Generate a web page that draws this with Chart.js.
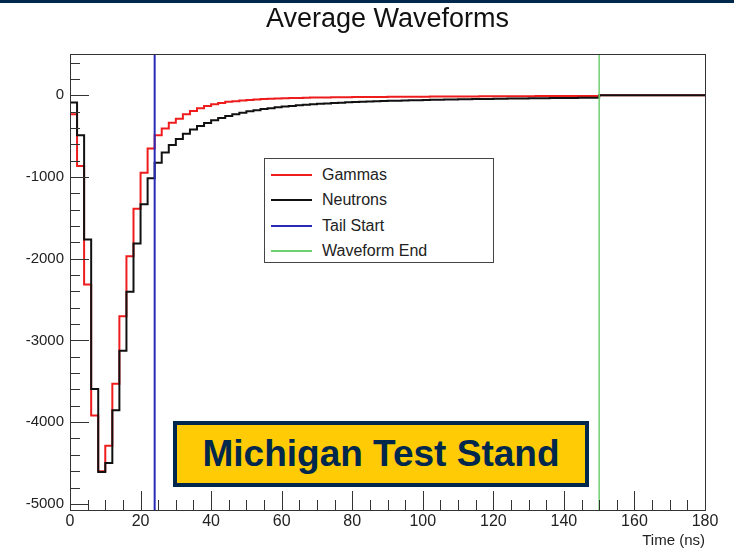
<!DOCTYPE html>
<html>
<head>
<meta charset="utf-8">
<title>Average Waveforms</title>
<script src="https://cdn.jsdelivr.net/npm/chart.js@4.4.1/dist/chart.umd.min.js"></script>
<style>
  body { margin: 0; background: #fff; }
  .slide { position: relative; width: 734px; height: 551px; overflow: hidden; }
  .top-bar { position: absolute; left: 0; top: 0; width: 734px; height: 3px; background: #00274c; }
  #chart-box { position: absolute; left: 0; top: 0; }
  .legend {
    position: absolute; left: 264px; top: 158px; width: 230px; height: 105px;
    box-sizing: border-box; border: 1px solid #444; background: #fff;
    font: 16px "Liberation Sans", Arial, Helvetica, sans-serif; color: #222;
    padding-top: 3px;
  }
  .legend-row { display: flex; align-items: center; height: 25.5px; }
  .legend-line { width: 41px; height: 2px; margin-left: 6px; margin-right: 10px; }
  .stand-label {
    position: absolute; left: 173px; top: 421px; width: 416px; height: 66px;
    box-sizing: border-box; border: 4px solid #00274c; background: #ffcb05;
    color: #00274c; font: bold 37px "Liberation Sans", Arial, Helvetica, sans-serif;
    display: flex; align-items: center; justify-content: center;
  }
</style>
</head>
<body>
<div class="slide">
  <canvas id="chart-box" width="734" height="551"></canvas>
  <div class="top-bar"></div>
  <div class="legend" id="legend"></div>
  <div class="stand-label">Michigan Test Stand</div>
</div>
<script>
// histogram binning (ns)
const binWidth = 2;
const xMin = 0, xMax = 180;
const yMin = -5075, yMax = 500;

// average pulse per bin, 2 ns bins from 0 to 180 ns
const gammas = [
  -233, -866, -2316, -3920, -4600, -4290, -3530, -2705, -1970, -1390,
  -948, -650, -490, -408, -335, -286, -233, -192, -159, -131,
  -110, -94, -80, -72, -65, -58, -52, -47, -43, -40,
  -37, -34, -32, -30, -28, -27, -26, -25, -24, -23,
  -22, -21, -21, -20, -20, -19, -19, -18, -18, -17,
  -17, -16, -16, -15, -15, -14, -14, -14, -13, -13,
  -12, -12, -12, -11, -11, -11, -10, -10, -10, -9,
  -9, -9, -8, -8, -8, 0, 0, 0, 0, 0,
  0, 0, 0, 0, 0, 0, 0, 0, 0, 0
];
const neutrons = [
  -90, -490, -1765, -3595, -4610, -4500, -3855, -3125, -2405, -1815,
  -1335, -1017, -825, -700, -610, -535, -472, -420, -376, -338,
  -305, -277, -253, -232, -213, -197, -182, -169, -158, -147,
  -138, -130, -123, -116, -110, -105, -100, -95, -91, -87,
  -83, -80, -77, -74, -71, -68, -66, -64, -62, -60,
  -58, -56, -55, -53, -52, -50, -49, -47, -46, -45,
  -43, -42, -41, -40, -39, -38, -37, -36, -35, -34,
  -33, -32, -31, -30, -29, 0, 0, 0, 0, 0,
  0, 0, 0, 0, 0, 0, 0, 0, 0, 0
];

// integration window markers (ns)
const tailStart = 24;
const waveformEnd = 150;

const xTicks = [0, 20, 40, 60, 80, 100, 120, 140, 160, 180];
const yTicks = [-5000, -4000, -3000, -2000, -1000, 0];
const xMinorStep = 5;
const yMinorStep = 200;

const fontFamily = '"Liberation Sans", Arial, Helvetica, sans-serif';

// left edge of every bin + closing point at the last edge
const toSteps = (values) => {
  const pts = values.map((v, i) => ({ x: i * binWidth, y: v }));
  pts.push({ x: values.length * binWidth, y: values[values.length - 1] });
  return pts;
};

const vLine = (x) => [{ x: x, y: yMin }, { x: x, y: yMax }];

//! frame and inward tick marks, root style
const frameTicks = {
  id: "frameTicks",
  afterDatasetsDraw(chart) {
    const { ctx, chartArea } = chart;
    const xs = chart.scales.x;
    const ys = chart.scales.y;
    ctx.save();
    ctx.strokeStyle = "#333";
    ctx.lineWidth = 1;
    ctx.beginPath();
    for (let v = Math.ceil(yMin / yMinorStep) * yMinorStep; v <= yMax; v += yMinorStep) {
      const y = Math.round(ys.getPixelForValue(v)) + 0.5;
      const len = yTicks.includes(v) ? 19 : 10;
      ctx.moveTo(chartArea.left, y);
      ctx.lineTo(chartArea.left + len, y);
    }
    for (let v = xMin; v <= xMax; v += xMinorStep) {
      const x = Math.round(xs.getPixelForValue(v)) + 0.5;
      const len = xTicks.includes(v) ? 19 : 10;
      ctx.moveTo(x, chartArea.bottom);
      ctx.lineTo(x, chartArea.bottom - len);
    }
    ctx.stroke();
    ctx.strokeRect(
      Math.round(chartArea.left) + 0.5,
      Math.round(chartArea.top) + 0.5,
      Math.round(chartArea.right - chartArea.left),
      Math.round(chartArea.bottom - chartArea.top)
    );
    ctx.restore();
  },
};

const config = {
  type: "line",
  data: {
    datasets: [
      { label: "Gammas", data: toSteps(gammas), borderColor: "#ee1c1c", borderWidth: 2, stepped: "before", order: 3 },
      { label: "Neutrons", data: toSteps(neutrons), borderColor: "#111", borderWidth: 2, stepped: "before", order: 2 },
      { label: "Tail Start", data: vLine(tailStart), borderColor: "#2a2ab8", borderWidth: 2, order: 1 },
      { label: "Waveform End", data: vLine(waveformEnd), borderColor: "#6fd06f", borderWidth: 1.5, order: 0 },
    ],
  },
  options: {
    responsive: false,
    animation: false,
    devicePixelRatio: 1,
    layout: { padding: { left: 0, right: 29, top: 0, bottom: 0 } },
    elements: { point: { radius: 0 }, line: { tension: 0 } },
    plugins: {
      legend: { display: false },
      tooltip: { enabled: false },
      title: {
        display: true,
        fullSize: false,
        text: "Average Waveforms",
        color: "#111",
        font: { family: fontFamily, size: 27, weight: "normal" },
        padding: { top: 3, bottom: 19 },
      },
    },
    scales: {
      x: {
        type: "linear",
        min: xMin,
        max: xMax,
        afterBuildTicks: (s) => { s.ticks = xTicks.map((v) => ({ value: v })); },
        afterFit: (s) => { s.height = 41; },
        grid: { display: false, drawTicks: false },
        border: { display: false },
        ticks: {
          color: "#222",
          padding: 2,
          maxRotation: 0,
          autoSkip: false,
          font: { family: fontFamily, size: 16 },
          callback: (v) => String(v),
        },
        title: {
          display: true,
          text: "Time (ns)",
          align: "end",
          color: "#222",
          font: { family: fontFamily, size: 15 },
          padding: { top: 0, bottom: 1 },
        },
      },
      y: {
        type: "linear",
        min: yMin,
        max: yMax,
        afterBuildTicks: (s) => { s.ticks = yTicks.map((v) => ({ value: v })); },
        afterFit: (s) => { s.width = 70; },
        grid: { display: false, drawTicks: false },
        border: { display: false },
        ticks: {
          color: "#222",
          padding: 6,
          font: { family: fontFamily, size: 15 },
          callback: (v) => String(v),
        },
      },
    },
  },
  plugins: [frameTicks],
};

const myChart = new Chart(document.getElementById("chart-box"), config);

// legend box built from the datasets
const legendBox = document.getElementById("legend");
myChart.data.datasets.forEach((ds) => {
  const row = document.createElement("div");
  row.classList.add("legend-row");
  const line = document.createElement("span");
  line.classList.add("legend-line");
  line.style.background = ds.borderColor;
  const label = document.createElement("span");
  label.textContent = ds.label;
  row.append(line, label);
  legendBox.append(row);
});
</script>
</body>
</html>
